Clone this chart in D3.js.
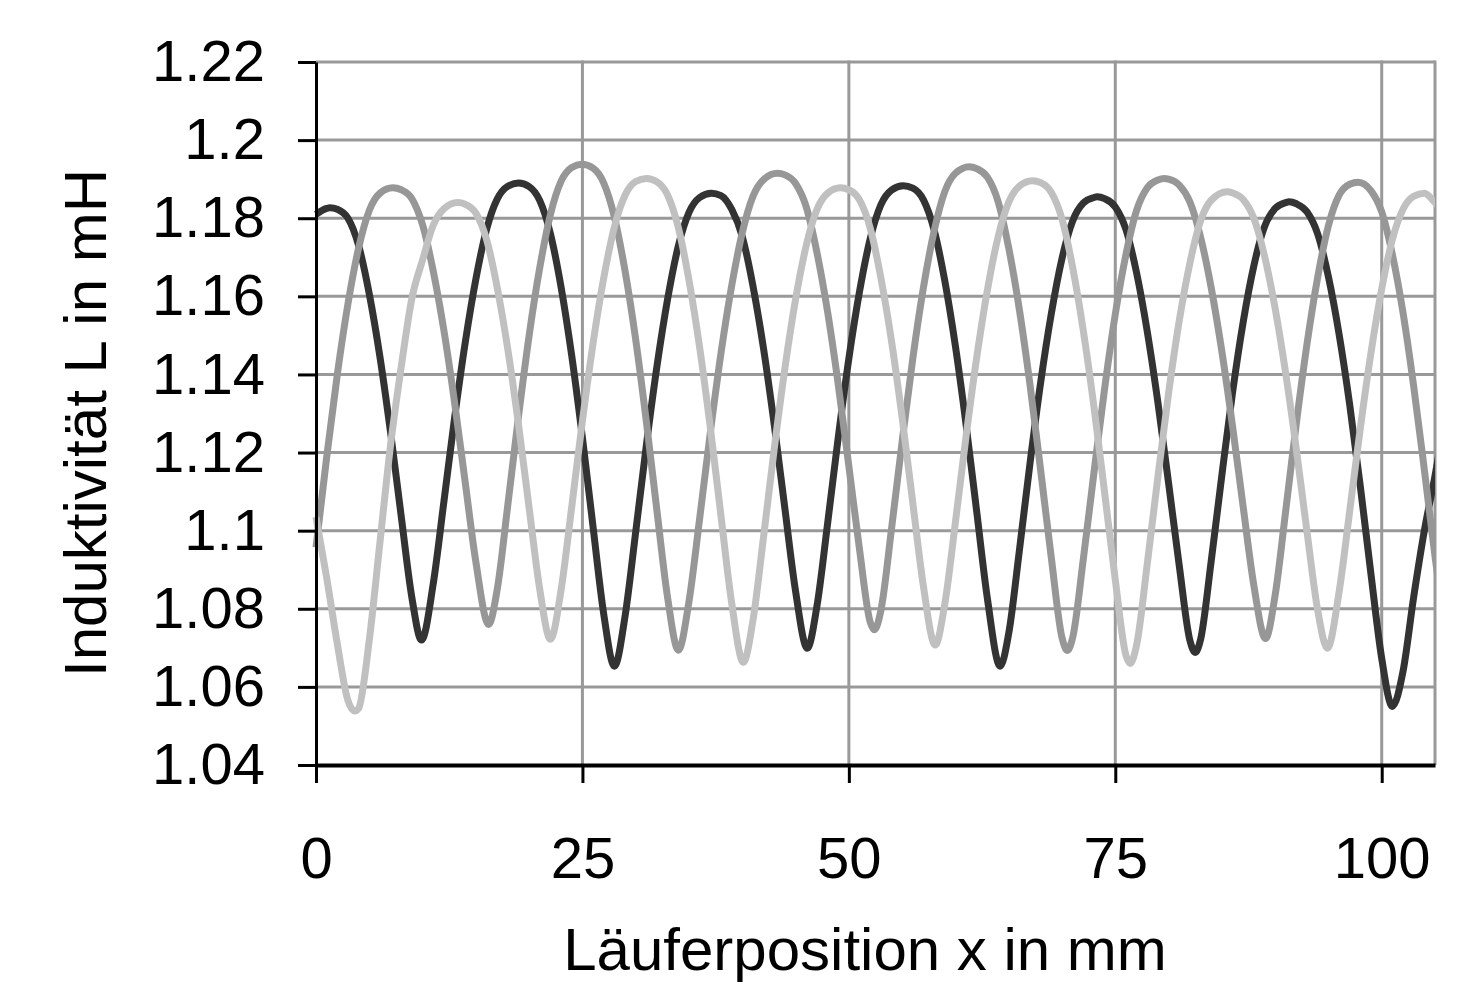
<!DOCTYPE html>
<html>
<head>
<meta charset="utf-8">
<script src="https://cdn.jsdelivr.net/npm/d3@7"></script>
<style>
  body { margin: 0; background: #fff; }
  svg text { font-family: "Liberation Sans", Arial, sans-serif; fill: #000; }
</style>
</head>
<body>
<svg width="1483" height="984"></svg>
<script>
// axis values
const xTicks = [0, 25, 50, 75, 100];
const xGrid = [25, 50, 75, 100, 105];
const yTicks = [1.04, 1.06, 1.08, 1.1, 1.12, 1.14, 1.16, 1.18, 1.2, 1.22];

// series: [Läuferposition in mm, Induktivität in mH]
const darkL = [
  [0, 1.181], [1, 1.1825], [1.3, 1.1827], [2, 1.1823], [3, 1.18], [4, 1.173], [5, 1.1606],
  [6, 1.1445], [7, 1.1251], [8, 1.1036], [9, 1.0828], [9.9, 1.072], [11, 1.0864], [12, 1.1074],
  [13, 1.1288], [14, 1.1481], [15, 1.1644], [16, 1.1771], [17, 1.1849], [18, 1.1882], [19, 1.189],
  [20, 1.1881], [21, 1.1845], [22, 1.176], [23, 1.1623], [24, 1.1447], [25, 1.1238], [26, 1.1009],
  [27, 1.0786], [28, 1.0653], [29, 1.0781], [30, 1.0997], [31, 1.1219], [32, 1.1422], [33, 1.1594],
  [34, 1.1729], [35, 1.1815], [36, 1.1853], [37.1, 1.1864], [38, 1.1858], [39, 1.1823], [40, 1.1753],
  [41, 1.1627], [42, 1.1465], [43, 1.1271], [44, 1.1056], [45, 1.0845], [46.1, 1.0699], [47, 1.0806],
  [48, 1.1017], [49, 1.1238], [50, 1.1441], [51, 1.1612], [52, 1.1747], [53, 1.1834], [54, 1.1872],
  [55.1, 1.1883], [56, 1.1877], [57, 1.1847], [58, 1.177], [59, 1.164], [60, 1.1472], [61, 1.1271],
  [62, 1.1048], [63, 1.0826], [64.2, 1.0653], [65, 1.0737], [66, 1.0949], [67, 1.1173], [68, 1.138],
  [69, 1.1556], [70, 1.1697], [71, 1.1793], [72, 1.1839], [73, 1.1853], [73.3, 1.1855], [74, 1.185],
  [75, 1.1829], [76, 1.1771], [77, 1.166], [78, 1.151], [79, 1.1328], [80, 1.1122], [81, 1.0911],
  [82, 1.0719], [82.5, 1.0688], [83, 1.0721], [84, 1.0922], [85, 1.1142], [86, 1.1353], [87, 1.1534],
  [88, 1.1678], [89, 1.1778], [90, 1.1825], [91, 1.184], [91.3, 1.1842], [92, 1.1837], [93, 1.1816],
  [94, 1.1759], [95, 1.165], [96, 1.1503], [97, 1.1322], [98, 1.1112], [99, 1.0887], [100, 1.0673],
  [101, 1.055], [102, 1.064], [103, 1.083], [104, 1.1], [105, 1.114], [106, 1.13]
];

const midL = [
  [0, 1.0957], [1, 1.1188], [2, 1.14], [3, 1.1581], [4, 1.1724], [5, 1.182], [6, 1.1864],
  [7.2, 1.1878], [8, 1.1873], [9, 1.185], [10, 1.1783], [11, 1.1665], [12, 1.1513], [13, 1.1329],
  [14, 1.1124], [15, 1.092], [16.2, 1.076], [17, 1.0849], [18, 1.1066], [19, 1.1292], [20, 1.15],
  [21, 1.1674], [22, 1.181], [23, 1.1895], [24, 1.193], [24.95, 1.1938], [26, 1.1928], [27, 1.189],
  [28, 1.1803], [29, 1.1665], [30, 1.1489], [31, 1.1279], [32, 1.1049], [33, 1.0827], [34, 1.0694],
  [35, 1.0819], [36, 1.1031], [37, 1.1251], [38, 1.1454], [39, 1.1626], [40, 1.1763], [41, 1.1856],
  [42, 1.1899], [43.3, 1.1915], [44, 1.1911], [45, 1.1889], [46, 1.1829], [47, 1.1713], [48, 1.1561],
  [49, 1.1375], [50, 1.1165], [51, 1.0952], [52, 1.0766], [52.4, 1.0746], [53, 1.0795], [54, 1.1004],
  [55, 1.1228], [56, 1.1441], [57, 1.1623], [58, 1.1767], [59, 1.1868], [60, 1.1915], [61.3, 1.1932],
  [62, 1.1927], [63, 1.1905], [64, 1.1843], [65, 1.1724], [66, 1.1566], [67, 1.1373], [68, 1.1154],
  [69, 1.093], [70, 1.0726], [70.5, 1.0693], [71, 1.0726], [72, 1.0927], [73, 1.1149], [74, 1.1364],
  [75, 1.1554], [76, 1.1707], [77, 1.182], [78, 1.1878], [79, 1.1898], [79.6, 1.1902], [80, 1.19],
  [81, 1.1885], [82, 1.1842], [83, 1.1752], [84, 1.1622], [85, 1.1459], [86, 1.1268], [87, 1.1061],
  [88, 1.086], [89.1, 1.0724], [90, 1.0835], [91, 1.1053], [92, 1.1277], [93, 1.148], [94, 1.165],
  [95, 1.1781], [96, 1.1859], [97, 1.1887], [97.8, 1.1892], [99, 1.187], [100, 1.1816], [101, 1.1707],
  [102, 1.1558], [103, 1.137], [104, 1.1156], [105, 1.0934], [106, 1.0733]
];

const lightL = [
  [0, 1.1035], [1, 1.088], [2, 1.071], [3, 1.0565], [3.65, 1.0538], [4, 1.0545], [5, 1.072],
  [6, 1.097], [7, 1.122], [8, 1.142], [9, 1.1595], [10, 1.1693], [11, 1.1782], [12, 1.1824],
  [13.3, 1.184], [14, 1.1836], [15, 1.1813], [16, 1.1746], [17, 1.1623], [18, 1.1464], [19, 1.1272],
  [20, 1.1058], [21, 1.0849], [22, 1.0722], [23, 1.0849], [24, 1.1062], [25, 1.1281], [26, 1.148],
  [27, 1.1647], [28, 1.1778], [29, 1.1859], [30, 1.1894], [31, 1.1902], [32, 1.1893], [33, 1.1859],
  [34, 1.1776], [35, 1.1641], [36, 1.1469], [37, 1.1264], [38, 1.1038], [39, 1.0816], [40.1, 1.0663],
  [41, 1.077], [42, 1.0985], [43, 1.121], [44, 1.1416], [45, 1.1592], [46, 1.173], [47, 1.1822],
  [48, 1.1864], [49.2, 1.1878], [50, 1.1873], [51, 1.1847], [52, 1.1775], [53, 1.1648], [54, 1.1486],
  [55, 1.1289], [56, 1.1071], [57, 1.0857], [58.1, 1.0707], [59, 1.0812], [60, 1.1022], [61, 1.1242],
  [62, 1.1444], [63, 1.1616], [64, 1.1752], [65, 1.1841], [66, 1.1882], [67.2, 1.1896], [68, 1.1891],
  [69, 1.1866], [70, 1.1798], [71, 1.1674], [72, 1.1512], [73, 1.1317], [74, 1.1097], [75, 1.0874],
  [76, 1.0681], [76.4, 1.066], [77, 1.0707], [78, 1.0915], [79, 1.1138], [80, 1.1352], [81, 1.1537],
  [82, 1.1685], [83, 1.1793], [84, 1.1846], [85.5, 1.1868], [86, 1.1865], [87, 1.1848], [88, 1.18],
  [89, 1.1704], [90, 1.1569], [91, 1.1401], [92, 1.1206], [93, 1.0995], [94, 1.0795], [94.9, 1.0699],
  [96, 1.0843], [97, 1.1051], [98, 1.1264], [99, 1.1457], [100, 1.1619], [101, 1.1746], [102, 1.1823],
  [103, 1.1856], [104, 1.1864], [105, 1.184], [106, 1.181]
];

const series = [
  { name: "dark", values: darkL, color: "#333333" },
  { name: "mid", values: midL, color: "#979797" },
  { name: "light", values: lightL, color: "#c0c0c0" }
];

const svg = d3.select("svg");
const width = +svg.attr("width");
const height = +svg.attr("height");
const margin = { top: 62, right: 48, bottom: 219, left: 316 };
const fontSize = 58;

const x = d3.scaleLinear()
  .domain([0, 105])
  .range([margin.left, width - margin.right]);

const y = d3.scaleLinear()
  .domain([1.04, 1.22])
  .range([height - margin.bottom, margin.top]);

// grid
svg.append("g")
  .selectAll("line")
  .data(yTicks.slice(1))
  .join("line")
  .attr("x1", x(0))
  .attr("x2", x(105))
  .attr("y1", d => y(d))
  .attr("y2", d => y(d))
  .attr("stroke", "#999")
  .attr("stroke-width", 3);

svg.append("g")
  .selectAll("line")
  .data(xGrid)
  .join("line")
  .attr("x1", d => x(d))
  .attr("x2", d => x(d))
  .attr("y1", y(1.22) - 1.5)
  .attr("y2", y(1.04))
  .attr("stroke", "#999")
  .attr("stroke-width", 3);

// lines
svg.append("defs")
  .append("clipPath")
  .attr("id", "plot-clip")
  .append("rect")
  .attr("x", x(0) - 4)
  .attr("y", 0)
  .attr("width", x(105) - x(0) + 4)
  .attr("height", height);

const line = d3.line()
  .x(d => x(d[0]))
  .y(d => y(d[1]))
  .curve(d3.curveMonotoneX);

svg.append("g")
  .attr("clip-path", "url(#plot-clip)")
  .selectAll("path")
  .data(series)
  .join("path")
  .attr("d", d => line(d.values))
  .attr("fill", "none")
  .attr("stroke", d => d.color)
  .attr("stroke-width", 7)
  .attr("stroke-linejoin", "round");

// axes
const yAxis = svg.append("g")
  .attr("transform", `translate(${x(0)},0)`)
  .call(d3.axisLeft(y)
    .tickValues(yTicks)
    .tickSize(18)
    .tickSizeOuter(0)
    .tickPadding(33)
    .tickFormat(d => String(+d.toFixed(2))));

const xAxis = svg.append("g")
  .attr("transform", `translate(0,${y(1.04)})`)
  .call(d3.axisBottom(x)
    .tickValues(xTicks)
    .tickSize(18)
    .tickSizeOuter(0)
    .tickPadding(54));

yAxis.select(".domain").attr("stroke", "#000").attr("stroke-width", 3);
xAxis.select(".domain").attr("stroke", "#000").attr("stroke-width", 4);
svg.selectAll(".tick line").attr("stroke", "#000").attr("stroke-width", 3);
svg.selectAll(".tick text")
  .attr("font-size", fontSize)
  .attr("font-family", "Liberation Sans, Arial, sans-serif")
  .attr("fill", "#000");

// axis titles
svg.append("text")
  .attr("x", 865)
  .attr("y", 970)
  .attr("text-anchor", "middle")
  .attr("font-size", 60)
  .text("Läuferposition x in mm");

svg.append("text")
  .attr("transform", "rotate(-90)")
  .attr("x", -423)
  .attr("y", 106)
  .attr("text-anchor", "middle")
  .attr("font-size", 60)
  .text("Induktivität L in mH");
</script>
</body>
</html>
